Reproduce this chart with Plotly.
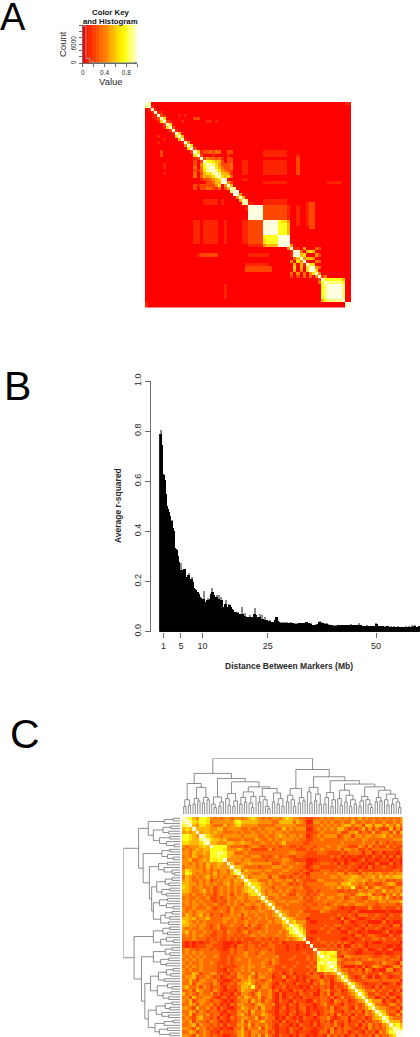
import plotly.graph_objects as go

W, H = 420, 1037
FONT = "Liberation Sans"
INK = "#2a2a2a"
AXIS = "#6a6a6a"

# ---------- Colour key ----------
key_levels = [0, 0.067, 0.133, 0.2, 0.267, 0.333, 0.4, 0.467, 0.533, 0.6, 0.667, 0.733, 0.8, 0.867, 0.933, 1.0]
key_hist_x = [0, 0.06, 0.06, 0.13, 0.13, 0.2, 0.2, 1.0]
key_hist_count = [11800, 11800, 1600, 1600, 500, 500, 60, 60]
key_tail_x = [0.2, 0.95, 0.95, 1.0]
key_tail_count = [60, 60, 300, 300]

# ---------- Panel A: lower triangle, one digit per cell (0 low .. 9 high) ----------
a_rows = [
 "9", "89", "019", "0019", "00019", "000129", "0000169", "00000029", "000000169",
 "0000000 029",
 "0000000000 19",
 "0000010000 069",
 "0000000100 0059",
 "0000010000 00019",
 "0000000000 000049",
 "0000000000 0000069",
 "0000002000 0000 0 029",
 "0000002000 0000 0 0069",
 "0000000000 000000 0129",
 "0000000000 000000 20 29",
 "0000001000 000000 20 479",
 "0000001000 000000 30 3789",
 "0000000000 000000 21 36899",
 "0000001000 000000 30 256689",
 "0000000000 000000 30 3545689",
 "0000000000 000000 00 12234569",
 "0000000000 000000 00 002235599",
 "0000000000 000000 21 2222246049",
 "0000000000 000000 20 22332130259",
 "0000000000 000000 00 000000000089",
 "0000000000 000000 00 0000000000099",
 "0000000000 000000 00 00000000000049",
 "0000000000 000000 00 011111010000059",
 "0000000000 000000 00 0111110100000089",
 "0000000000 000000 00 00000000000000019",
 "0000000000 000000 00 000000000000000199",
 "0000000000 000000 00 0000000000000000999",
 "0000000000 000000 00 00000000000000009999",
 "0000000000 000000 00 000000000000000099999",
 "0000000000 000000 11 0111110010000011222229",
 "0000000000 000000 11 01111100100000112222299",
 "0000000000 000000 11 011111001000001122222999",
 "0000000000 000000 11 0111110010000011222229999",
 "0000000000 000000 11 01111100100000112222299999",
 "0000000000 000000 11 011111001000001122222777779",
 "0000000000 000000 11 0111110010000011222226777799",
 "0000000000 000000 11 01111100100000112222267777999",
 "0000000000 000000 00 000000000000000011111455559999",
 "0000000000 000000 00 0000000000000000000000 0 00000049",
 "0000000000 000000 00 0000000000000000000000 0 000000019",
 "0000000000 000000 01 2222220000000000111111 1 0000000199",
 "0000000000 000000 00 0000000000000000000000 0 00000000 0359",
 "0000000000 000000 00 0000000000000000000000 0 00000000 40649",
 "0000000000 000000 00 0000000000000000111111 1 10000000 050519",
 "0000000000 000000 00 0000000000000000222222 2 22000000 0605069",
 "0000000000 000000 00 0000000000000000222222 2 22000000 05040699",
 "0000000000 000000 00 0000000000000000000000 0 00000000 304030469",
 "0000000000 000000 00 0000000000000000000000 0 00000000 2020303049",
 "0000000000 000000 00 0000000000000000000000 0 00000000 00000000029",
 "0000000000 000000 00 0000000000000000000000 0 00000000 000000000379",
 "0000000000 000000 00 0000000001000000000000 0 00000000 0000000000789",
 "0000000000 000000 00 0000000001000000000000 0 00000000 00000000007899",
 "0000000000 000000 00 0000000001000000000000 0 00000000 000000000078999",
 "0000000000 000000 00 0000000001000000000000 0 00000000 0000000000789999",
 "0000000000 000000 00 0000000001000000000000 0 00000000 00000000007899999",
 "0000000000 000000 00 0000000000000000000000 0 00000000 000000000057888889",
 "0100000000 000000 00 0000000000000000000000 0 00000000 0000000000000000009",
 "0100000000 000000 00 0000000000000000000000 0 00000000 00000000000000000099",
]

# ---------- Panel B ----------
b_bin_mb = 0.2306
b_values = [
 .79,.805,.745,.63,.625,.605,.55,.50,.49,.478,.46,.44,.445,.413,.40,.333,.33,.327,.30,.28,
 .24,.273,.245,.22,.25,.25,.215,.22,.225,.233,.19,.21,.22,.20,.174,.17,.165,.16,.16,.15,
 .14,.134,.12,.13,.163,.12,.106,.125,.134,.12,.13,.15,.174,.16,.146,.135,.14,.146,.13,.145,
 .12,.14,.125,.10,.094,.11,.126,.10,.095,.11,.106,.10,.09,.085,.08,.08,.078,.075,.08,.07,
 .068,.07,.10,.07,.062,.075,.06,.055,.058,.06,.067,.06,.055,.06,.07,.094,.065,.06,.052,.06,
 .07,.05,.065,.05,.048,.06,.045,.047,.04,.042,.045,.04,.038,.04,.04,.045,.06,.058,.042,.04,
 .035,.04,.036,.04,.033,.038,.035,.04,.033,.036,.032,.038,.034,.035,.032,.036,.03,.034,.032,.036,
 .033,.03,.034,.036,.033,.035,.038,.04,.036,.034,.03,.033,.027,.028,.025,.026,.03,.026,.03,.04,
 .042,.03,.04,.035,.03,.034,.032,.033,.028,.03,.026,.028,.027,.024,.026,.023,.025,.024,.027,.026,
 .028,.025,.027,.026,.028,.024,.027,.026,.028,.025,.027,.03,.026,.028,.025,.027,.024,.026,.025,.036,
 .026,.025,.023,.024,.022,.024,.022,.025,.023,.022,.024,.021,.023,.022,.021,.024,.035,.03,.024,.022,
 .021,.019,.022,.024,.02,.022,.019,.021,.024,.02,.019,.022,.02,.018,.021,.019,.02,.018,.021,.019,
 .018,.02,.019,.017,.02,.018,.021,.019,.018,.024,.019,.017,.025,.018,.021,.027,.019,.02,.018,.022,
]
b_xticks = [1, 5, 10, 25, 50]
b_yticks = [0, 0.2, 0.4, 0.6, 0.8, 1.0]

# ---------- Panel C: lower triangle ----------
c_rows = [
 "9","89","789","5659","45459","776549","7765589","66555689","434445659","3434545577",
 "44354454778","343543447787","4453345476779","44343435445549","344434353454459",
 "4654443434344359","47643434353443579","354343453434344359","4543343423434435459",
 "55443434343345344369","654344334234343434569","5543345342343434345669",
 "44343343323434243435669","343343342232343344344459","4434343332332434343343359",
 "34344343343234343244344359","433433343233324334332343459","4343444333343243344343443349",
 "35434534233233434243343343459","554534453333443432343343433459",
 "6543434333334334334334333434469","55443443234233433242432343333559",
 "434334332342233323233223433334679","4534334332332433234233434333434789",
 "34343433223323323233433433343345679","333433323232232323222332323233434569",
 "2121212233221112122322232322312222229","21212223322211213323323223322212212129",
 "343323332322123233233323323222122122229","3434343333322232334332343332222222232239",
 "43434343343223233343334333342222322232379","343434333332232343343333434322232222323678",
 "4343343343222323333433343243222223222327879","34343433332322223434433433322322322232376789",
 "434334333322132334343333343222232222232767879",
 "4335423344232132433352434322312312223132243459",
 "34452334323123224435324433122412312123331322359",
 "435324433422112324454332342221322121312342313469",
 "3352443324312232445642334321322213222132433122359",
 "45334243233213223554732443122312221213223231322369",
 "334254332432122135443243342312213231222133422312459",
 "5343243342312213244324533421312221322311324133223469",
 "34253344321231224354335234213123121322223323124223569",
 "435234432332121234425342432132213222113233214323123459",
 "3354243342312132443324543341221321322212342232132232369",
 "44325334231321123543342533212312213312122324123321423469",
 "335424323322132243425334322132123123122123342213232314359",
 "4352343423312122453243354321221321221231232314223132243469",
 "34324533231321323443352343312132121322123342123313223124569",
 "435243324321212235243345332213122312212132314223122313233479",
 "3345243323231322443524334321322121322131233242132231324232459",
 "44325342322121133524335243212213221322122324132332123142323569",
 "335423432213222345324433423122132122211233142323123213231435789",
 "4432534323221122453243525321322121321212214232312313223142335699",
]

# ---------- Dendrograms: [height, left, right], 0 is a leaf ----------
top_tree = [100,
 [73,
  [55, [26,[14,0,0],[16,0,0]], [48,[28,[18,0,0],[24,0,0]],[30,[20,0,0],[26,0,0]]]],
  [64, [31,[18,0,[12,0,0]],[22,[14,0,0],0]],
   [58, [37,[28,0,[16,0,0]],[24,[14,0,0],0]],
    [49, [40,[30,[18,0,0],[22,0,0]],[32,[20,0,[12,0,0]],0]],
     [46,[32,[22,0,0],[26,0,[14,0,[10,0,0]]]],[38,[22,0,0],[28,[18,0,0],[14,0,0]]]]]]]],
 [80,
  [46,[34,[22,0,0],[26,0,[14,0,0]]],[30,[20,0,0],[24,0,0]]],
  [67, [48,[40,0,[20,0,0]],[36,[24,0,0],[18,0,0]]],
   [60, [39,[30,[18,0,0],0],[26,[14,0,0],0]],
    [54, [43,[28,0,[16,0,0]],[34,[22,0,0],[26,[14,0,0],[18,0,0]]]],
     [49, [32,[24,[14,0,0],0],[26,0,[18,0,[12,0,0]]]],
      [43,[30,[22,0,0],[24,0,0]],[36,[26,0,[16,0,0]],[28,[18,0,0],[22,0,[12,0,0]]]]]]]]]]]

side_tree = [100,
 [73,
  [56,[28,[12,0,0],0],[47,[30,[16,0,0],[20,0,0]],[36,[18,0,0],[24,0,[10,0,0]]]]],
  [65,[32,[18,0,0],[22,0,[12,0,0]]],
   [54,[38,[22,0,0],[28,0,[14,0,[10,0,0]]]],
    [50,[41,[26,[14,0,0],[20,0,0]],[32,[18,0,0],[24,0,0]]],
     [47,[36,[22,0,0],[24,0,[12,0,0]]],[34,[26,[14,0,0],[18,0,0]],[20,0,0]]]]]]],
 [81,
  [47,[30,[18,0,0],[22,0,0]],[34,[24,0,[12,0,0]],0]],
  [68,[47,[26,[14,0,0],[18,0,0]],[34,[20,0,0],[24,0,0]]],
   [62,
    [52,[38,[24,[12,0,0],[16,0,0]],[28,0,0]],[40,[22,0,[14,0,0]],[30,[16,0,0],[20,0,0]]]],
    [56,[42,[26,[14,0,0],[18,0,0]],[32,0,[20,0,0]]],[44,[28,[12,0,0],0],[36,[22,0,0],[18,0,0]]]]]]]]

heat_scale = [[0, "rgb(255,0,0)"], [0.4, "rgb(255,128,0)"], [0.75, "rgb(255,255,0)"], [1, "rgb(255,255,224)"]]


def matrix(rows):
    n = len(rows)
    cells = [[0.0] * n for _ in range(n)]
    for i, raw in enumerate(rows):
        s = raw.replace(" ", "")[-(i + 1):].rjust(i + 1, "0")
        for j, ch in enumerate(s):
            cells[i][j] = cells[j][i] = int(ch) / 9
    return cells


def tree_lines(tree):
    pos, hgt, count = [], [], [0]

    def walk(node):
        if node == 0:
            count[0] += 1
            return count[0] - 1, 0
        xa, ha = walk(node[1])
        xb, hb = walk(node[2])
        pos.extend([xa, xa, xb, xb, None])
        hgt.extend([ha, node[0], node[0], hb, None])
        return (xa + xb) / 2, node[0]

    walk(tree)
    return pos, hgt, count[0]


def dx(a, b):
    return [a / W, b / W]


def dy(top, bottom):
    return [1 - bottom / H, 1 - top / H]


fig = go.Figure()

# Colour key
fig.add_trace(go.Heatmap(x=key_levels, y=[0, 12100], z=[key_levels], zmin=0, zmax=1, colorscale=heat_scale,
                         showscale=False, xaxis="x", yaxis="y"))
fig.add_trace(go.Scatter(x=key_hist_x, y=key_hist_count, mode="lines", line=dict(color="#a09a90", width=1),
                         xaxis="x", yaxis="y", showlegend=False))
fig.add_trace(go.Scatter(x=key_tail_x, y=key_tail_count, mode="lines", line=dict(color="#50a8a0", width=1),
                         xaxis="x", yaxis="y", showlegend=False))

# Panel A
a_z = matrix(a_rows)
fig.add_trace(go.Heatmap(z=a_z, zmin=0, zmax=1, colorscale=heat_scale, showscale=False,
                         xaxis="x2", yaxis="y2"))

# Panel B
b_x = [(i + 0.5) * b_bin_mb + 0.15 for i in range(len(b_values))]
b_solid = []
for i, v in enumerate(b_values):
    left = b_values[i - 1] if i else v
    right = b_values[i + 1] if i + 1 < len(b_values) else v
    b_solid.append(min(v, max(left, right)))
fig.add_trace(go.Bar(x=b_x, y=b_values, width=b_bin_mb * 1.05, marker=dict(color="#8c8c8c", line=dict(width=0)),
                     xaxis="x3", yaxis="y3", showlegend=False))
fig.add_trace(go.Bar(x=b_x, y=b_solid, width=b_bin_mb * 1.05, marker=dict(color="#000000", line=dict(width=0)),
                     xaxis="x3", yaxis="y3", showlegend=False))

# Panel C
c_z = matrix(c_rows)
fig.add_trace(go.Heatmap(z=c_z, zmin=0, zmax=1, colorscale=heat_scale, showscale=False,
                         xaxis="x4", yaxis="y4"))

# Dendrograms
tp, th, tn = tree_lines(top_tree)
fig.add_trace(go.Scatter(x=tp, y=th, mode="lines", line=dict(color="#707070", width=0.8),
                         xaxis="x5", yaxis="y5", showlegend=False))
sp, sh, sn = tree_lines(side_tree)
fig.add_trace(go.Scatter(x=sh, y=sp, mode="lines", line=dict(color="#707070", width=0.8),
                         xaxis="x6", yaxis="y6", showlegend=False))

hidden = dict(visible=False, showgrid=False, zeroline=False)
layout = dict(
    width=W, height=H, autosize=False, margin=dict(l=0, r=0, t=0, b=0, pad=0, autoexpand=False),
    paper_bgcolor="white", plot_bgcolor="white", barmode="overlay", showlegend=False, bargap=0,
    xaxis=dict(domain=dx(82.7, 137.3), range=[0, 1], showline=True, linecolor=AXIS, linewidth=0.8, ticks="outside",
               ticklen=3, tickcolor=AXIS, tickwidth=0.8, tickvals=[0, .2, .4, .6, .8, 1],
               ticktext=["0", "", "0.4", "", "0.8", ""], tickfont=dict(family=FONT, size=6.5, color=INK),
               tickangle=0, showgrid=False, zeroline=False, anchor="y"),
    yaxis=dict(domain=dy(25, 63.3), range=[0, 12100], showline=True, linecolor=AXIS, linewidth=0.8, ticks="outside",
               ticklen=3, tickcolor=AXIS, tickwidth=0.8, tickvals=[0, 2000, 4000, 6000, 8000, 10000, 12000],
               ticktext=["0", "", "", "6000", "", "", ""], tickfont=dict(family=FONT, size=6.5, color=INK),
               tickangle=-90, showgrid=False, zeroline=False, anchor="x"),
    xaxis2=dict(domain=dx(145, 351), range=[-0.5, len(a_rows) - 0.5], anchor="y2", **hidden),
    yaxis2=dict(domain=dy(102, 307.5), range=[len(a_rows) - 0.5, -0.5], anchor="x2", **hidden),
    xaxis3=dict(domain=dx(159.2, 420), range=[0, 60.13], tickvals=b_xticks, ticks="outside", ticklen=5,
                tickcolor=AXIS, tickwidth=1, tickfont=dict(family=FONT, size=9, color=INK), showline=False,
                showgrid=False, zeroline=False, anchor="y3", tickangle=0),
    yaxis3=dict(domain=dy(381, 631.7), range=[0, 1], tickvals=b_yticks, tickformat=".1f", ticks="outside", ticklen=5,
                tickcolor=AXIS, tickwidth=1, showline=True, linecolor=AXIS, linewidth=1, tickangle=-90,
                tickfont=dict(family=FONT, size=9, color=INK), showgrid=False, zeroline=False,
                anchor="free", position=150 / W),
    xaxis4=dict(domain=dx(182, 402.5), range=[-0.5, len(c_rows) - 0.5], anchor="y4", **hidden),
    yaxis4=dict(domain=dy(817, 1037), range=[len(c_rows) - 0.5, -0.5], anchor="x4", **hidden),
    xaxis5=dict(domain=dx(182.5, 402), range=[-0.5, tn - 0.5], anchor="y5", **hidden),
    yaxis5=dict(domain=dy(758.3, 814.3), range=[0, 100], anchor="x5", **hidden),
    xaxis6=dict(domain=dx(123.3, 180), range=[100, 0], anchor="y6", **hidden),
    yaxis6=dict(domain=dy(817, 1037), range=[sn - 0.5, -0.5], anchor="x6", **hidden),
)


def note(text, x, y, size, color=INK, bold=False, angle=0, family=FONT):
    body = f"<b>{text}</b>" if bold else text
    return dict(text=body, x=x / W, y=1 - y / H, xref="paper", yref="paper", showarrow=False,
                xanchor="center", yanchor="middle", textangle=angle, align="center",
                font=dict(family=family, size=size, color=color))


layout["annotations"] = [
    note("A", 13.5, 17, 38, "#000000"),
    note("B", 17, 386, 41, "#000000"),
    note("C", 25, 734, 41, "#000000"),
    note("Color Key", 110, 12.5, 7.8, "#111111", bold=True),
    note("and Histogram", 110, 21.5, 7.8, "#111111", bold=True),
    note("Value", 110.5, 82, 9.5),
    note("Count", 63, 44, 9.5, angle=-90),
    note("Average r-squared", 118, 506, 8.5, bold=True, angle=-90),
    note("Distance Between Markers (Mb)", 289, 666, 8.5, bold=True),
]
fig.update_layout(**layout)
fig.write_html("out.html", config={"displayModeBar": False},
               post_script="document.body.style.margin='0';document.body.style.overflow='hidden';")
